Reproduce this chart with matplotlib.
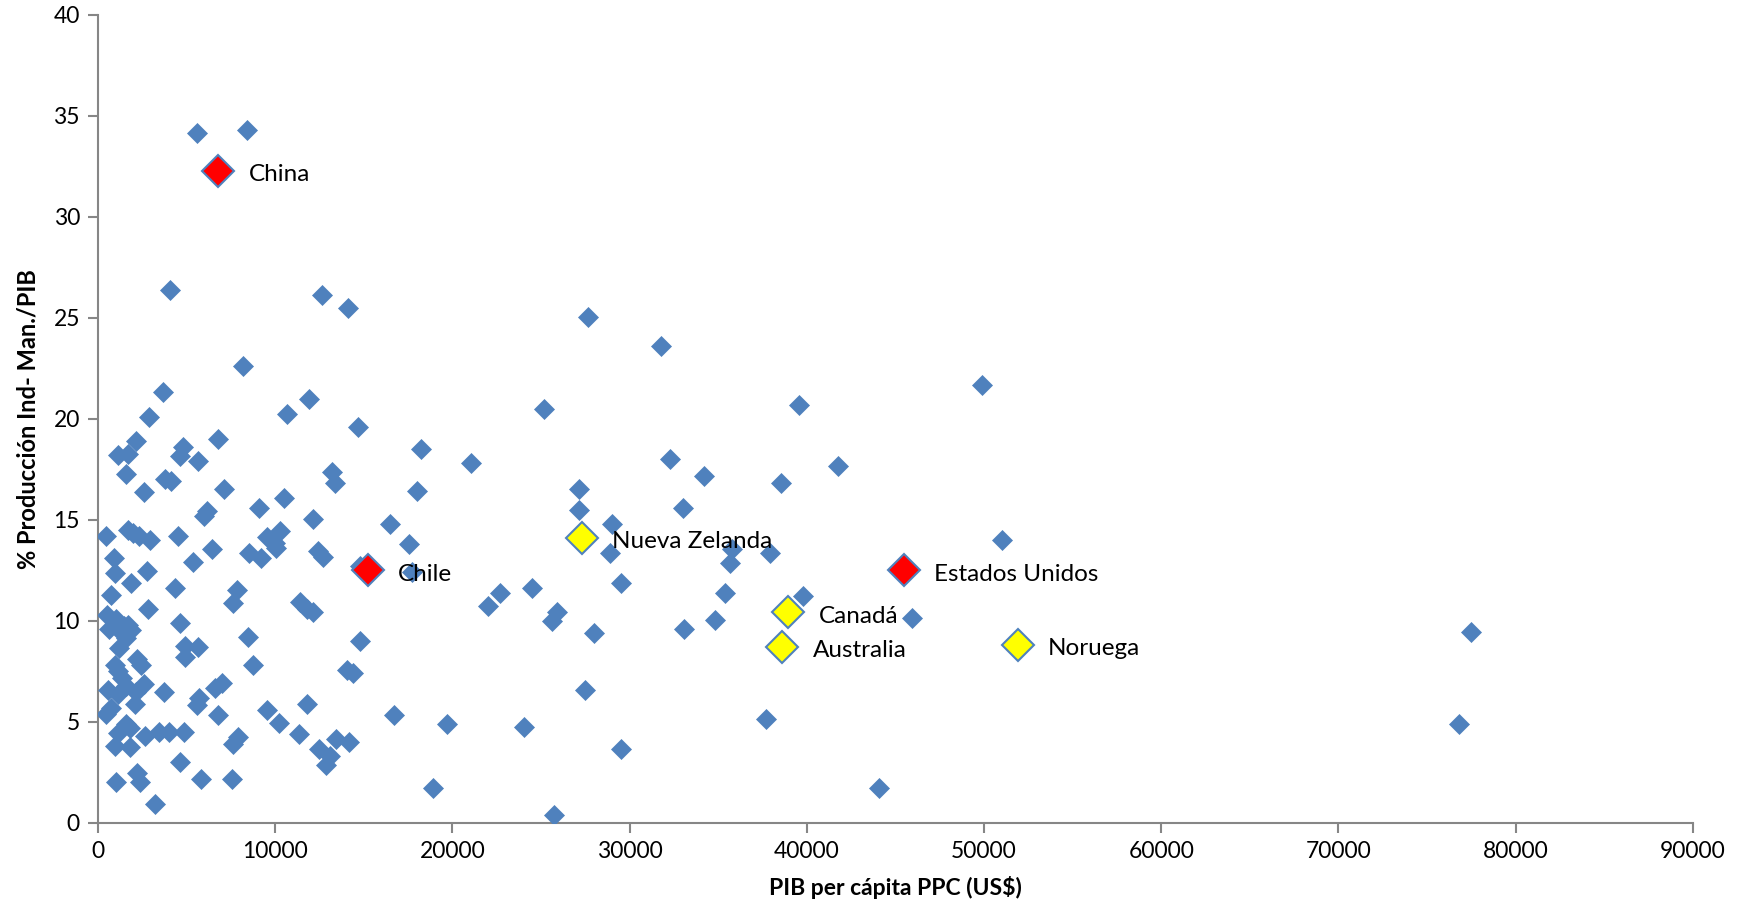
import matplotlib
matplotlib.use("Agg")
import matplotlib.pyplot as plt

plt.rcParams['font.family'] = ['Lato', 'DejaVu Sans']

# Other countries (PIB per cápita PPC, % producción industria manufacturera / PIB)
pib_otros = [
    5600, 8430, 4090, 12640, 14090, 27670, 31760, 49870, 8180, 3650,
    25160, 39560, 11890, 10690, 2890, 14650, 6790, 2140, 4780, 1130,
    1700, 4650, 5660, 18240, 21070, 32260, 41760, 1570, 3770, 4150,
    13210, 13400, 34210, 38550, 7110, 2580, 17990, 27170, 10500, 6160,
    5970, 9060, 33020, 27170, 12140, 16480, 28990, 440, 1700, 1950,
    2330, 2960, 4530, 9560, 10250, 10000, 10060, 17550, 51000, 6420,
    8550, 9180, 12390, 12700, 35790, 37920, 28870, 880, 5350, 940,
    2770, 14780, 17740, 35660, 1890, 4340, 7860, 24470, 22700, 22010,
    35410, 29500, 39810, 750, 11380, 11820, 12140, 7610, 2830, 25910,
    25600, 45910, 34840, 500, 1000, 630, 1450, 1130, 1700, 1890,
    4650, 1570, 27990, 33080, 14780, 8490, 77480, 1200, 4910, 5660,
    4910, 2200, 2450, 940, 8740, 1130, 14030, 14400, 1380, 6980,
    6600, 2580, 1570, 570, 2140, 1130, 3710, 27480, 5720, 5600,
    2080, 11820, 9560, 750, 440, 6790, 16730, 1570, 1820, 10190,
    19690, 37670, 76790, 1130, 2640, 3460, 4030, 4840, 7920, 7610,
    11320, 13460, 14150, 24030, 12450, 13080, 12890, 940, 1820, 29500,
    4650, 2200, 5790, 7550, 2390, 1000, 18930, 44090, 3210, 25720,
]
ind_otros = [
    34.15, 34.3, 26.4, 26.15, 25.5, 25.05, 23.6, 21.7, 22.6, 21.35,
    20.5, 20.7, 20.97, 20.25, 20.1, 19.6, 19.0, 18.9, 18.6, 18.2,
    18.26, 18.15, 17.9, 18.5, 17.8, 18.04, 17.65, 17.3, 17.05, 16.94,
    17.38, 16.83, 17.2, 16.83, 16.55, 16.4, 16.44, 16.55, 16.1, 15.45,
    15.2, 15.6, 15.6, 15.5, 15.06, 14.8, 14.8, 14.2, 14.5, 14.34,
    14.2, 14.0, 14.23, 14.18, 14.45, 13.85, 13.6, 13.8, 14.0, 13.57,
    13.35, 13.1, 13.46, 13.19, 13.57, 13.35, 13.35, 13.1, 12.9, 12.36,
    12.47, 12.7, 12.4, 12.86, 11.86, 11.64, 11.53, 11.64, 11.37, 10.76,
    11.37, 11.86, 11.25, 11.3, 10.92, 10.6, 10.43, 10.87, 10.6, 10.43,
    9.99, 10.15, 10.04, 10.3, 10.1, 9.6, 9.77, 9.6, 9.82, 9.55,
    9.88, 9.16, 9.38, 9.6, 9.0, 9.2, 9.43, 8.66, 8.77, 8.72,
    8.22, 8.1, 7.83, 7.83, 7.83, 7.5, 7.56, 7.4, 7.17, 6.95,
    6.68, 6.9, 6.79, 6.6, 6.5, 6.4, 6.46, 6.57, 6.18, 5.85,
    5.9, 5.9, 5.57, 5.68, 5.4, 5.35, 5.35, 4.91, 4.69, 4.97,
    4.9, 5.13, 4.91, 4.47, 4.3, 4.52, 4.52, 4.52, 4.25, 3.92,
    4.41, 4.14, 4.03, 4.74, 3.64, 3.31, 2.87, 3.8, 3.75, 3.64,
    3.03, 2.48, 2.2, 2.2, 2.04, 2.04, 1.71, 1.71, 0.94, 0.39,
]

# Highlighted countries
paises_rojo = ["China", "Chile", "Estados Unidos"]
pib_rojo = [6800, 15220, 45470]
ind_rojo = [32.3, 12.52, 12.52]

paises_amarillo = ["Nueva Zelanda", "Canadá", "Australia", "Noruega"]
pib_amarillo = [27300, 38930, 38620, 51890]
ind_amarillo = [14.12, 10.43, 8.72, 8.83]

x_ticks = list(range(0, 90001, 10000))
y_ticks = list(range(0, 41, 5))

BLUE = '#4F81BD'
GRAY = '#868686'

fig = plt.figure(figsize=(17.46, 9.14), dpi=100)
ax = fig.add_axes([0.0561, 0.0996, 0.9135, 0.884])

ax.plot(pib_otros, ind_otros, linestyle='none', marker='D', markersize=10,
        markerfacecolor=BLUE, markeredgecolor=BLUE, markeredgewidth=0.5, zorder=3)
ax.plot(pib_rojo, ind_rojo, linestyle='none', marker='D', markersize=16,
        markerfacecolor='#FF0000', markeredgecolor=BLUE, markeredgewidth=1.5, zorder=4)
ax.plot(pib_amarillo, ind_amarillo, linestyle='none', marker='D', markersize=16,
        markerfacecolor='#FFFF00', markeredgecolor=BLUE, markeredgewidth=1.5, zorder=4)

for nombre, xv, yv in list(zip(paises_rojo, pib_rojo, ind_rojo)) + \
        list(zip(paises_amarillo, pib_amarillo, ind_amarillo)):
    ax.annotate(nombre, (xv, yv), xytext=(22, -3), textcoords='offset points',
                ha='left', va='center', fontsize=17.5, color='black', zorder=5)

ax.set_xlim(0, 90000)
ax.set_ylim(0, 40)
ax.set_xticks(x_ticks)
ax.set_yticks(y_ticks)
ax.set_xticklabels([str(v) for v in x_ticks])
ax.set_yticklabels([str(v) for v in y_ticks])

for s in ['top', 'right']:
    ax.spines[s].set_visible(False)
for s in ['left', 'bottom']:
    ax.spines[s].set_color(GRAY)
    ax.spines[s].set_linewidth(1.5)
ax.tick_params(axis='both', direction='out', length=7, width=1.5, color=GRAY,
               labelsize=16.5, labelcolor='black', pad=6)

ax.set_xlabel('PIB per cápita PPC (US$)', fontsize=16.5, fontweight='bold', labelpad=10)
ax.set_ylabel('% Producción Ind- Man./PIB', fontsize=17, fontweight='bold', labelpad=10)

fig.savefig('out.png', dpi=100)
